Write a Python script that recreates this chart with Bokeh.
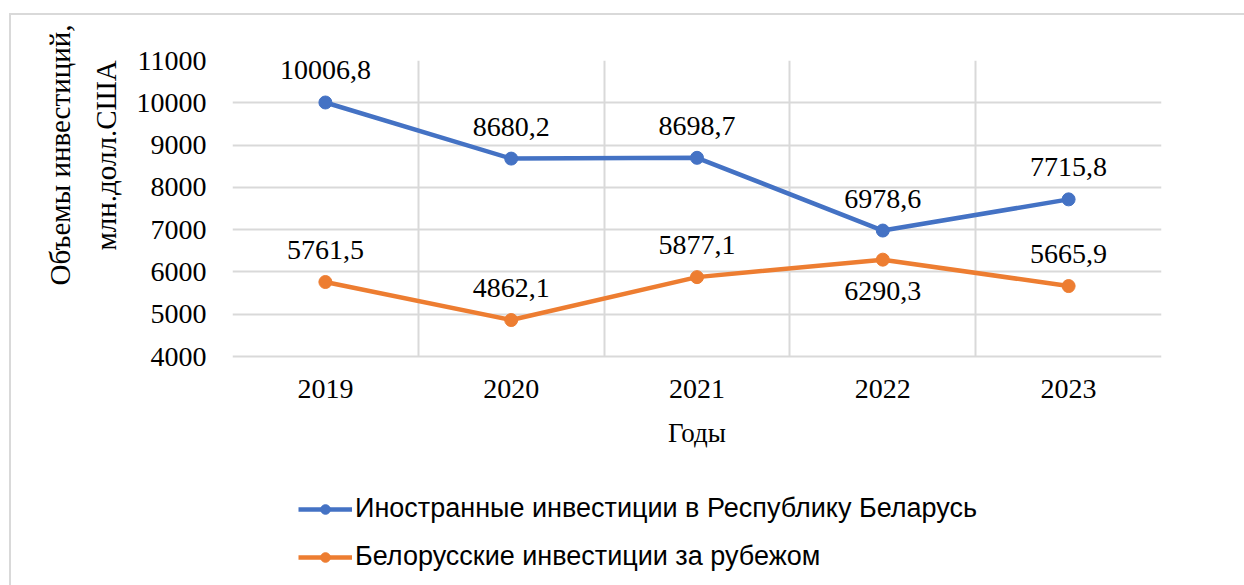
from bokeh.plotting import figure
from bokeh.models import (ColumnDataSource, FixedTicker, Legend, LegendItem, Range1d, Title)
from bokeh.core.properties import value
from bokeh.embed import file_html
from bokeh.resources import INLINE

years = ["2019", "2020", "2021", "2022", "2023"]
foreign = [10006.8, 8680.2, 8698.7, 6978.6, 7715.8]
abroad = [5761.5, 4862.1, 5877.1, 6290.3, 5665.9]
foreign_labels = ["10006,8", "8680,2", "8698,7", "6978,6", "7715,8"]
abroad_labels = ["5761,5", "4862,1", "5877,1", "6290,3", "5665,9"]
abroad_label_pos = ["above", "above", "above", "below", "above"]
y_ticks = [4000, 5000, 6000, 7000, 8000, 9000, 10000, 11000]
name_foreign = "Иностранные инвестиции в Республику Беларусь"
name_abroad = "Белорусские инвестиции за рубежом"
x_title = "Годы"
y_title_1 = "Объемы инвестиций,"
y_title_2 = "млн.долл.США"

BLUE = "#4472C4"
ORANGE = "#ED7D31"
GRID = "#D9D9D9"
SERIF = "Liberation Serif"
SANS = "Liberation Sans"

xs = [i + 0.5 for i in range(len(years))]
x_bounds = list(range(len(years) + 1))

FW = 1233
FL, FT, FWD = 221, 45, 929
PLOT_H = 296            # height of the gridded area (4000..11000)
FHT = 525               # frame extends down to hold the legend
y_lo, y_hi = y_ticks[0], y_ticks[-1]
y_start = y_lo - (FHT - PLOT_H) * (y_hi - y_lo) / PLOT_H

p = figure(frame_width=FWD, frame_height=FHT, output_backend="svg", toolbar_location=None,
           x_range=Range1d(0, len(years)), y_range=Range1d(y_start, y_hi),
           min_border_left=FL, min_border_top=FT,
           min_border_right=FW - FL - FWD, min_border_bottom=0,
           margin=(13, 0, 0, 9))
p.styles = {"border-top": "2px solid " + GRID, "border-left": "2px solid " + GRID}
p.outline_line_color = None
p.background_fill_color = "white"
p.border_fill_color = "white"

p.xaxis.ticker = FixedTicker(ticks=xs)
p.xaxis.major_label_overrides = {x: y for x, y in zip(xs, years)}
p.xaxis.fixed_location = y_lo
p.yaxis.ticker = FixedTicker(ticks=y_ticks)
for ax in (p.xaxis[0], p.yaxis[0]):
    ax.axis_line_color = None
    ax.major_tick_line_color = None
    ax.minor_tick_line_color = None
    ax.major_tick_out = 0
    ax.major_tick_in = 0
    ax.major_label_text_font = SERIF
    ax.major_label_text_font_size = "28px"
    ax.major_label_text_color = "black"
p.xaxis.major_label_standoff = 23
p.yaxis.major_label_standoff = 26
p.xaxis.axis_label = x_title
p.xaxis.axis_label_text_font = SERIF
p.xaxis.axis_label_text_font_size = "27px"
p.xaxis.axis_label_text_font_style = "normal"
p.xaxis.axis_label_text_color = "black"
p.xaxis.axis_label_standoff = 17

p.ygrid.ticker = FixedTicker(ticks=y_ticks)
p.ygrid.grid_line_color = GRID
p.ygrid.grid_line_width = 2

xg = p.xgrid[0]
if "cross_bounds" in xg.properties():
    xg.ticker = FixedTicker(ticks=x_bounds)
    xg.cross_bounds = (y_lo, y_hi)
    xg.grid_line_color = GRID
    xg.grid_line_width = 2
else:
    xg.grid_line_color = None
    p.segment(x0=x_bounds, y0=[y_lo] * len(x_bounds), x1=x_bounds,
              y1=[y_hi] * len(x_bounds), line_color=GRID, line_width=2, level="underlay")

src_f = ColumnDataSource(dict(x=xs, y=foreign, t=foreign_labels))
offs = [-32 if pos == "above" else 31 for pos in abroad_label_pos]
src_a = ColumnDataSource(dict(x=xs, y=abroad, t=abroad_labels, off=offs))

lf = p.line("x", "y", source=src_f, line_color=BLUE, line_width=4.5)
cf = p.scatter("x", "y", source=src_f, size=13, fill_color=BLUE, line_color=BLUE)
la = p.line("x", "y", source=src_a, line_color=ORANGE, line_width=4.5)
ca = p.scatter("x", "y", source=src_a, size=13, fill_color=ORANGE, line_color=ORANGE)

p.text("x", "y", text="t", source=src_f, y_offset=-32, text_align="center",
       text_baseline="middle", text_font=value(SERIF), text_font_size="28px",
       text_color="black")
p.text("x", "y", text="t", source=src_a, y_offset="off", text_align="center",
       text_baseline="middle", text_font=value(SERIF), text_font_size="28px",
       text_color="black")

# y axis titles (two lines), nearest line first
p.add_layout(Title(text=y_title_2, align="left", offset=335, standoff=24,
                   text_font=SERIF, text_font_size="29px", text_font_style="normal",
                   text_color="black"), "left")
p.add_layout(Title(text=y_title_1, align="left", offset=300, standoff=0,
                   text_font=SERIF, text_font_size="29px", text_font_style="normal",
                   text_color="black"), "left")

legend = Legend(items=[LegendItem(label=name_foreign, renderers=[lf, cf]),
                       LegendItem(label=name_abroad, renderers=[la, ca])],
                location=(66, 13), orientation="vertical",
                glyph_width=54, glyph_height=24, label_height=24, spacing=17,
                label_standoff=3, padding=0, margin=0,
                label_text_font=SANS, label_text_font_size="27px",
                label_text_color="black", border_line_color=None,
                background_fill_alpha=0)
p.add_layout(legend, "center")

open("out.html", "w").write(file_html(p, INLINE))
